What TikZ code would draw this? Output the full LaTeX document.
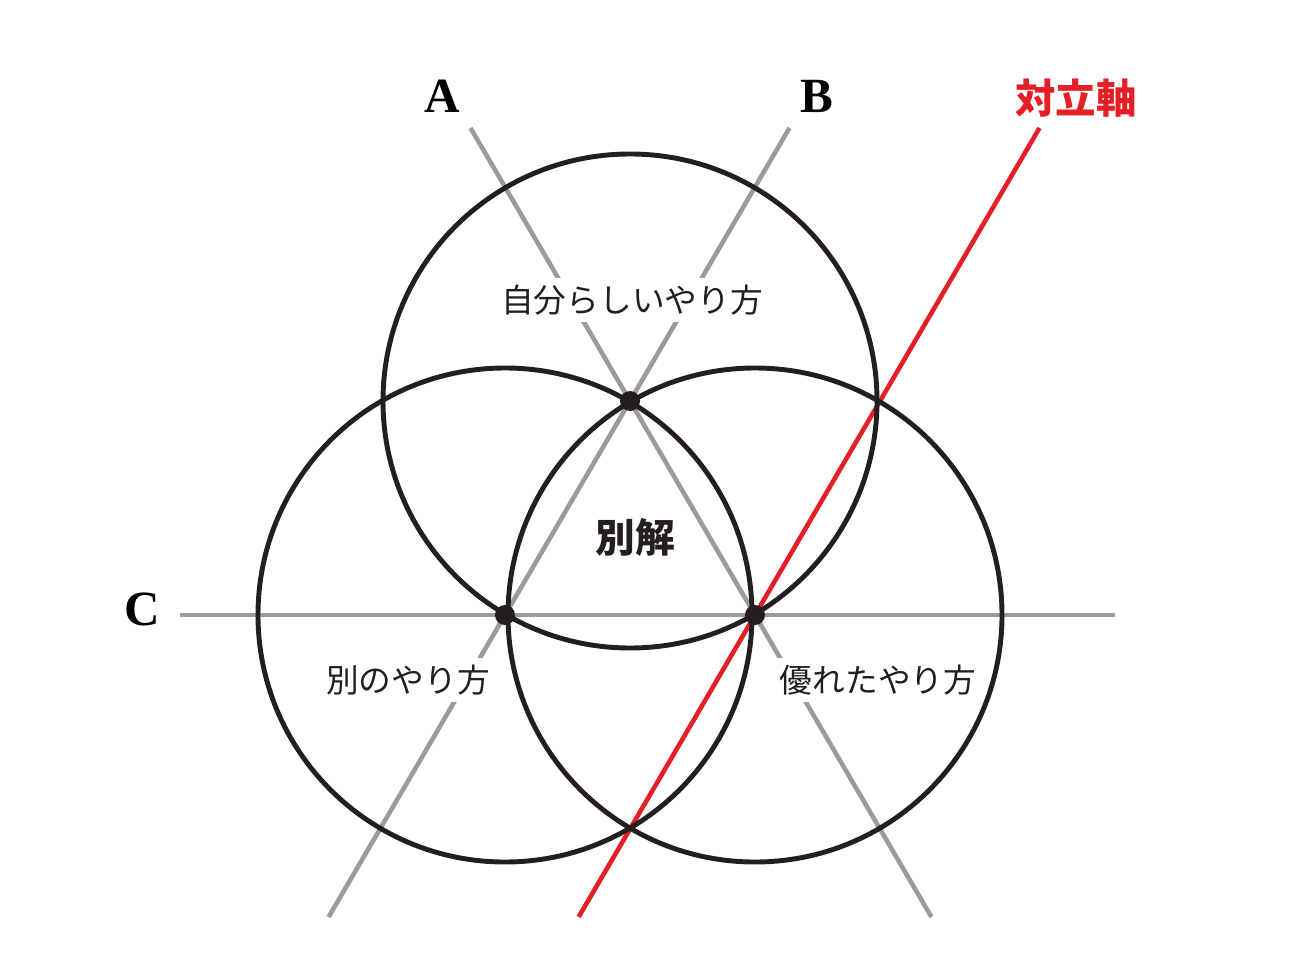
\documentclass[tikz,border=0pt]{standalone}
\usepackage{fontspec}
\newfontfamily\jpfont{Noto Sans CJK JP}
\newfontfamily\abcfont{Liberation Serif}
\usetikzlibrary{calc}

\begin{document}
\begin{tikzpicture}[
    guide/.style={draw=guidegray, line width=1.3pt},
    conflict/.style={draw=conflictred, line width=1.3pt},
    ring/.style={draw=ringblack, line width=1.4pt},
    way/.style={font=\jpfont\fontsize{9.3}{11}\selectfont, text=ringblack, fill=white, inner sep=2pt},
    letter/.style={font=\abcfont\bfseries\fontsize{14}{16}\selectfont, text=black, inner sep=0pt}
  ]
  % Define colors
  \definecolor{guidegray}{RGB}{155,155,155}
  \definecolor{conflictred}{RGB}{230,30,37}
  \definecolor{ringblack}{RGB}{35,31,32}

  % Page frame
  \useasboundingbox (0,0) rectangle (13,9.52);

  % Circle centres and line ends
  \coordinate (L) at (5.05,3.37);
  \coordinate (R) at (7.55,3.37);
  \coordinate (T) at (6.30,5.51);
  \coordinate (D) at ($(R)+(T)-(L)$);
  \coordinate (Atop) at ($(R)!2.276!(T)$);
  \coordinate (Abot) at ($(R)!-1.411!(T)$);
  \coordinate (Btop) at ($(L)!2.276!(T)$);
  \coordinate (Bbot) at ($(L)!-1.411!(T)$);
  \coordinate (Ctop) at (1.80,3.37);
  \coordinate (Cbot) at (11.15,3.37);
  \coordinate (Xtop) at ($(R)!2.276!(D)$);
  \coordinate (Xbot) at ($(R)!-1.411!(D)$);

  % Gray axes
  \draw[guide] (Atop) -- (Abot);
  \draw[guide] (Btop) -- (Bbot);
  \draw[guide] (Ctop) -- (Cbot);

  % Red axis
  \draw[conflict] (Xtop) -- (Xbot);

  % Three circles
  \draw[ring] (T) circle (2.47);
  \draw[ring] (L) circle (2.47);
  \draw[ring] (R) circle (2.47);

  % Centre dots
  \fill[ringblack] (T) circle (0.10);
  \fill[ringblack] (L) circle (0.10);
  \fill[ringblack] (R) circle (0.10);

  % Axis labels
  \node[letter] (labA) at (4.42,8.56) {A};
  \node[letter] (labB) at (8.17,8.56) {B};
  \node[letter] (labC) at (1.425,3.43) {C};
  \node[font=\jpfont\bfseries\fontsize{11.5}{13}\selectfont, text=conflictred] (labX) at (10.76,8.54) {対立軸};

  % Region labels
  \node[way] (self) at (6.32,6.52) {自分らしいやり方};
  \node[way] (other) at (4.08,2.72) {別のやり方};
  \node[way] (better) at (8.78,2.72) {優れたやり方};
  \node[font=\jpfont\bfseries\fontsize{11.3}{13}\selectfont, text=ringblack] (alt) at (6.35,4.15) {別解};
\end{tikzpicture}
\end{document}
